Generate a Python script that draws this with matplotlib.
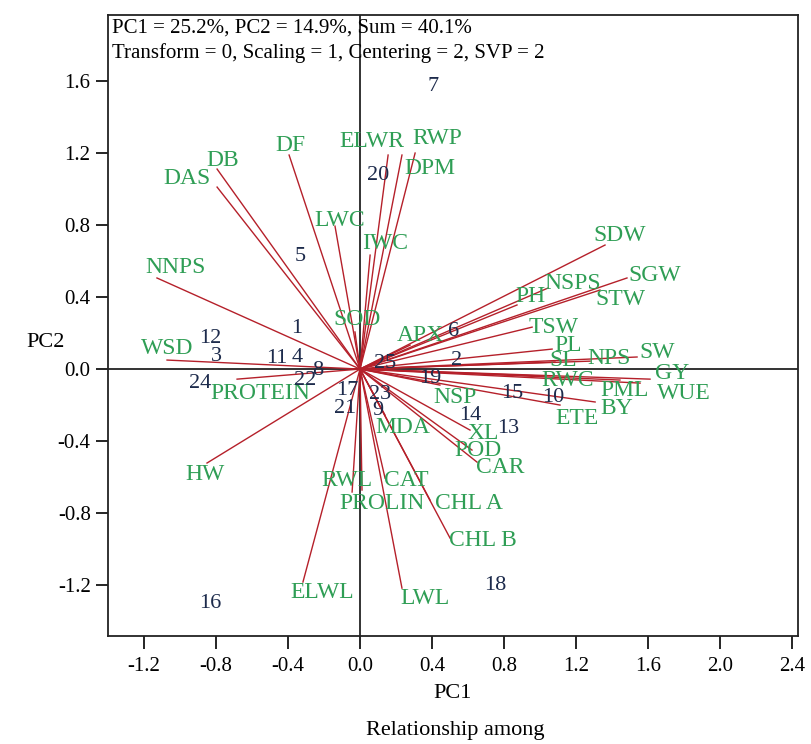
import matplotlib
matplotlib.use("Agg")
import matplotlib.pyplot as plt

# ---- data (PC1, PC2) ----
traits = ["DAS", "DB", "DF", "LWC", "ELWR", "DPM", "RWP", "IWC", "NNPS", "WSD",
          "PROTEIN", "HW", "SOD", "APX", "PH", "NSPS", "SDW", "SGW", "STW", "TSW",
          "PL", "SL", "NPS", "SW", "GY", "RWC", "PML", "WUE", "BY", "ETE",
          "NSP", "XL", "POD", "CAR", "MDA", "CHL B", "CHL A", "CAT", "PROLIN", "RWL",
          "ELWL", "LWL"]
trait_pc1 = [-0.794, -0.794, -0.394, -0.139, 0.156, 0.233, 0.306, 0.056, -1.128, -1.072,
             -0.683, -0.850, -0.028, 0.278, 0.872, 1.044, 1.361, 1.483, 1.333, 0.956,
             1.067, 1.083, 1.278, 1.539, 1.611, 1.028, 1.444, 1.556, 1.306, 1.111,
             0.444, 0.611, 0.622, 0.650, 0.139, 0.500, 0.389, 0.139, 0.011, -0.044,
             -0.317, 0.233]
trait_pc2 = [1.011, 1.111, 1.189, 0.794, 1.189, 1.189, 1.200, 0.633, 0.506, 0.050,
             -0.056, -0.522, 0.206, 0.133, 0.356, 0.450, 0.689, 0.506, 0.439, 0.233,
             0.111, 0.039, 0.044, 0.067, -0.056, -0.039, -0.061, -0.078, -0.183, -0.200,
             -0.089, -0.339, -0.450, -0.517, -0.256, -0.939, -0.728, -0.606, -0.672, -0.683,
             -1.183, -1.217]

genotypes = [str(i) for i in range(1, 26)]
geno_pc1 = [-0.350, 0.539, -0.800, -0.350, -0.333, 0.517, 0.406, -0.233, 0.100, 1.072,
            -0.461, -0.833, 0.822, 0.611, 0.844, -0.833, -0.072, 0.750, 0.389, 0.100,
            -0.083, -0.306, 0.111, -0.889, 0.139]
geno_pc2 = [0.228, 0.050, 0.072, 0.067, 0.628, 0.206, 1.572, -0.006, -0.228, -0.156,
            0.056, 0.172, -0.328, -0.256, -0.133, -1.300, -0.117, -1.200, -0.050, 1.078,
            -0.217, -0.061, -0.144, -0.078, 0.033]

xticks = [-1.2, -0.8, -0.4, 0.0, 0.4, 0.8, 1.2, 1.6, 2.0, 2.4]
yticks = [-1.2, -0.8, -0.4, 0.0, 0.4, 0.8, 1.2, 1.6]

# ---- layout: label offsets (pixels) relative to vector tips ----
label_offsets = {
    "DAS": (-30, 9), "DB": (6, 9), "DF": (1, 10), "LWC": (5, 6), "ELWR": (-16, 14),
    "DPM": (28, -13), "RWP": (22, 15), "IWC": (15, 12), "NNPS": (19, 10), "WSD": (0, 12),
    "PROTEIN": (23, -14), "HW": (-2, -11), "SOD": (2, 12), "APX": (10, 10), "PH": (13, 8),
    "NSPS": (25, 5), "SDW": (15, 10), "SGW": (28, 2), "STW": (20, -9), "TSW": (21, 0),
    "PL": (16, 4), "SL": (8, 2), "NPS": (19, 3), "SW": (20, 5), "GY": (22, 6),
    "RWC": (23, -4), "PML": (5, -10), "WUE": (44, -10), "BY": (22, -7), "ETE": (17, -13),
    "NSP": (15, -12), "XL": (13, -3), "POD": (6, 0), "CAR": (23, -5), "MDA": (18, -12),
    "CHL B": (33, -2), "CHL A": (39, -3), "CAT": (21, -2), "PROLIN": (20, -13), "RWL": (-5, 12),
    "ELWL": (19, -10), "LWL": (23, -10),
}

plt.rcParams["font.family"] = ["Liberation Serif", "DejaVu Serif"]
VEC = "#b5202a"
GREEN = "#2f9e55"
NAVY = "#1d2b4c"

fig = plt.figure(figsize=(8.11, 7.44), dpi=100)
ax = fig.add_axes([108 / 811, 1 - 636 / 744, 690 / 811, 621 / 744])
ax.set_xlim(-1.40, 2.433)
ax.set_ylim(-1.483, 1.967)

ax.axhline(0, color="#333333", lw=1.4, zorder=1)
ax.axvline(0, color="#333333", lw=1.4, zorder=1)

for name, x, y in zip(traits, trait_pc1, trait_pc2):
    ax.plot([0, x], [0, y], color=VEC, lw=1.0, zorder=2)
    dx, dy = label_offsets[name]
    ax.annotate(name, (x, y), xytext=(dx, dy), textcoords="offset pixels",
                ha="center", va="center", color=GREEN, fontsize=17, zorder=3)

for name, x, y in zip(genotypes, geno_pc1, geno_pc2):
    ax.text(x, y, name, ha="center", va="center", color=NAVY, fontsize=16, zorder=4)

ax.set_xticks(xticks)
ax.set_xticklabels([f"{v:.1f}" for v in xticks])
ax.set_yticks(yticks)
ax.set_yticklabels([f"{v:.1f}" for v in yticks])
ax.tick_params(direction="out", length=9, width=1.2, labelsize=15, colors="black")
ax.tick_params(axis="x", pad=6)
for s in ax.spines.values():
    s.set_linewidth(1.3)
    s.set_color("#222222")

ax.text(0.006, 0.995, "PC1 = 25.2%, PC2 = 14.9%, Sum = 40.1%", transform=ax.transAxes,
        ha="left", va="top", fontsize=15)
ax.text(0.006, 0.955, "Transform = 0, Scaling = 1, Centering = 2, SVP = 2", transform=ax.transAxes,
        ha="left", va="top", fontsize=15)

fig.text(46 / 811, 1 - 343 / 744, "PC2", ha="center", va="center", fontsize=16)
fig.text(453 / 811, 1 - 694 / 744, "PC1", ha="center", va="center", fontsize=16)
fig.text(455 / 811, 1 - 731 / 744, "Relationship among", ha="center", va="center", fontsize=16)

fig.savefig("out.png", dpi=100)
